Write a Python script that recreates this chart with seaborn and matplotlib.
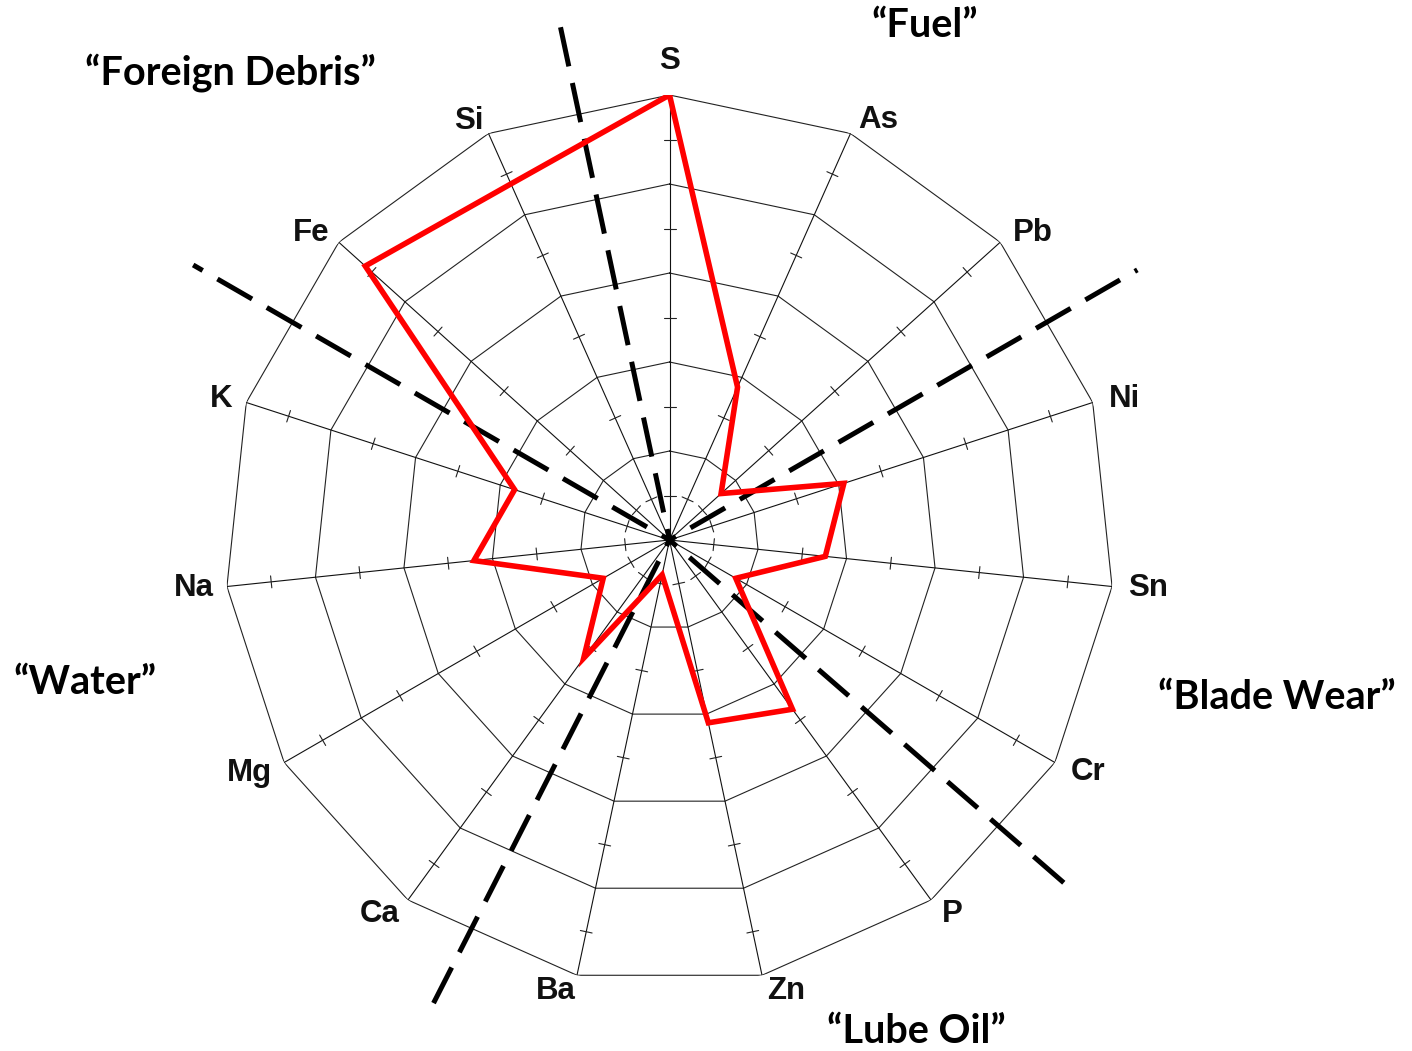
import numpy as np
import pandas as pd
import matplotlib
matplotlib.use("Agg")
import matplotlib.pyplot as plt
import seaborn as sns

# Elements around the radar, clockwise from the top
elements = ["S", "As", "Pb", "Ni", "Sn", "Cr", "P", "Zn", "Ba", "Ca", "Mg", "Na", "K", "Fe", "Si"]
levels = [5.0, 1.88, 0.78, 2.06, 1.76, 0.86, 2.35, 2.10, 0.40, 1.64, 0.86, 2.21, 1.83, 4.60, 4.38]

# Contamination source groups and the dividing rays (compass degrees, length in ring units)
groups = ["\u201cFuel\u201d", "\u201cBlade Wear\u201d", "\u201cLube Oil\u201d", "\u201cWater\u201d", "\u201cForeign Debris\u201d"]
divider_angles = [60, 131, 207, 300, 348]
divider_lengths = [6.07, 5.87, 5.84, 6.18, 5.89]
divider_phase = [7.4, 0.0, 0.0, 5.8, 0.0]

ring_levels = [1, 2, 3, 4, 5]
tick_levels = [0.5, 1.5, 2.5, 3.5, 4.5]

W, H, DPI = 1412, 1051, 100
CX, CY, R_PX = 669.5, 540.0, 445.0

sns.set_theme(style="white")
plt.rcParams["font.family"] = ["Liberation Sans", "DejaVu Sans"]

fig = plt.figure(figsize=(W / DPI, H / DPI), dpi=DPI)
fig.patch.set_facecolor("white")
ax = fig.add_axes([(CX - R_PX) / W, (H - CY - R_PX) / H, 2 * R_PX / W, 2 * R_PX / H],
                  projection="polar")
ax.set_theta_zero_location("N")
ax.set_theta_direction(-1)
ax.set_ylim(0, 5)
ax.grid(False)
ax.set_xticks([])
ax.set_yticks([])
ax.spines["polar"].set_visible(False)
ax.set_facecolor("none")

n = len(elements)
theta = np.arange(n) * 2 * np.pi / n

# Polygon rings
for lv in ring_levels:
    ax.plot(np.append(theta, theta[0]), [lv] * (n + 1), color="#222222", lw=0.8, zorder=1)

# Spokes
for t in theta:
    ax.plot([t, t], [0, ring_levels[-1]], color="#111111", lw=0.8, zorder=1)

# Small tick marks across each spoke at the half levels
half = 6.0 / (R_PX / 5)
for t in theta:
    for lv in tick_levels:
        d = np.arctan(half / lv)
        rr = np.hypot(lv, half)
        ax.plot([t - d, t + d], [rr, rr], color="#222222", lw=0.8, zorder=1)

# Dashed source dividers
for ang, ln, ph in zip(divider_angles, divider_lengths, divider_phase):
    a = np.deg2rad(ang)
    ax.plot([a, a], [ln, 0], color="black", lw=3.6, clip_on=False, zorder=2,
            linestyle=(ph, (8.0, 3.4)), solid_capstyle="butt", dash_capstyle="butt")

# Measured profile
prof = pd.DataFrame({"theta": np.append(theta, 2 * np.pi), "level": levels + [levels[0]]})
sns.lineplot(data=prof, x="theta", y="level", sort=False, estimator=None, ax=ax,
             color="#ff0000", lw=4.0, solid_joinstyle="miter", zorder=3)
ax.set_xlabel("")
ax.set_ylabel("")
ax.set_ylim(0, 5)

# Element labels around the outer ring (pixel offsets of the caption centre)
label_offsets = [(0, -37), (28, -16), (33, -12), (32, -6), (36, -2), (33, 7), (21, 11),
                 (24, 13), (-21, 13), (-28, 11), (-35, 7), (-33, -2), (-25, -6),
                 (-28, -12), (-20, -15)]
for t, name, (dx, dy) in zip(theta, elements, label_offsets):
    ax.annotate(name, xy=(t, 5), xytext=(dx * 72 / DPI, -(dy + 11) * 72 / DPI),
                textcoords="offset points", ha="center", va="baseline",
                fontsize=22.5, fontweight="bold", color="#111111",
                annotation_clip=False)

# Source group captions
group_pos = [(925, 37), (1277, 709), (916, 1043), (85, 694), (230, 85)]
for g, (px, py) in zip(groups, group_pos):
    fig.text(px / W, 1 - py / H, g, ha="center", va="baseline", fontsize=28.5,
             fontweight="bold", family=["Lato", "DejaVu Sans"], color="black")

fig.savefig("out.png", dpi=DPI, facecolor="white")
